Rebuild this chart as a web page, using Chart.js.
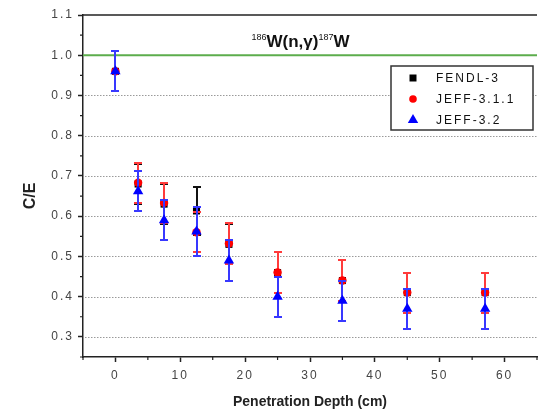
<!DOCTYPE html>
<html><head><meta charset="utf-8">
<script src="https://cdn.jsdelivr.net/npm/chart.js@4.4.0/dist/chart.umd.min.js"></script>
<style>html,body{margin:0;padding:0;background:#fff;overflow:hidden;width:541px;height:411px}canvas{display:block}</style>
</head><body><canvas id="c" width="543" height="411" style="width:543px;height:411px"></canvas>
<script>
// ---- data ----
const depth = [0, 3.5, 7.5, 12.5, 17.5, 25, 35, 45, 57];
const fendl3 = [0.96, 0.68, 0.63, 0.613, 0.53, 0.46, 0.44, 0.41, 0.41];
const fendl3Err = [0.05, 0.05, 0.05, 0.06, 0.05, 0.05, 0.05, 0.05, 0.05];
const jeff311 = [0.96, 0.683, 0.633, 0.56, 0.532, 0.46, 0.44, 0.41, 0.41];
const jeff311Err = [0.05, 0.05, 0.05, 0.05, 0.05, 0.05, 0.05, 0.05, 0.05];
const jeff32 = [0.96, 0.662, 0.59, 0.562, 0.49, 0.40, 0.39, 0.37, 0.37];
const jeff32Err = [0.05, 0.05, 0.05, 0.06, 0.05, 0.05, 0.05, 0.05, 0.05];
const seriesLabels = ['FENDL-3', 'JEFF-3.1.1', 'JEFF-3.2'];
const xTicks = [0, 10, 20, 30, 40, 50, 60];
const xMinorTicks = [-5, 5, 15, 25, 35, 45, 55, 65];
const yTicks = [0.3, 0.4, 0.5, 0.6, 0.7, 0.8, 0.9, 1.0, 1.1];
const yMinorTicks = [0.25, 0.35, 0.45, 0.55, 0.65, 0.75, 0.85, 0.95, 1.05];
const refValue = 1.0;
const titleParts = ['186', 'W(n,\u03b3)', '187', 'W'];
const xTitle = 'Penetration Depth (cm)';
const yTitle = 'C/E';

const FONT = '"Liberation Sans", Arial, Helvetica, sans-serif';
const AXIS = '#222';

function pts(vals) { return depth.map((x, i) => ({ x: x, y: vals[i] })); }

const custom = {
  id: 'custom',
  beforeUpdate(chart) { chart.ctx.letterSpacing = '2px'; },
  beforeDraw(chart) { chart.ctx.letterSpacing = '2px'; },
  beforeDatasetsDraw(chart) {
    const ctx = chart.ctx, a = chart.chartArea, ys = chart.scales.y;
    ctx.save();
    ctx.strokeStyle = '#9a9a9a';
    ctx.lineWidth = 1;
    ctx.setLineDash([1.5, 1.5]);
    yTicks.forEach(v => {
      if (Math.abs(v - refValue) < 1e-9 || Math.abs(v - ys.max) < 1e-9) return;
      const y = Math.round(ys.getPixelForValue(v)) + 0.5;
      ctx.beginPath(); ctx.moveTo(a.left + 2, y); ctx.lineTo(a.right, y); ctx.stroke();
    });
    ctx.restore();
  },
  beforeDatasetDraw(chart, args) {
    const ds = chart.data.datasets[args.index];
    if (!ds.errors) return;
    const ctx = chart.ctx, xs = chart.scales.x, ys = chart.scales.y;
    ctx.save();
    ctx.strokeStyle = ds.errColor;
    ctx.lineWidth = 2;
    ds.data.forEach((p, i) => {
      const e = ds.errors[i];
      const x = Math.round(xs.getPixelForValue(p.x));
      const yt = Math.round(ys.getPixelForValue(p.y + e)), yb = Math.round(ys.getPixelForValue(p.y - e));
      ctx.beginPath();
      ctx.moveTo(x, yt); ctx.lineTo(x, yb);
      ctx.moveTo(x - 4, yt); ctx.lineTo(x + 4, yt);
      ctx.moveTo(x - 4, yb); ctx.lineTo(x + 4, yb);
      ctx.stroke();
    });
    ctx.restore();
  },
  afterDraw(chart) {
    const ctx = chart.ctx, a = chart.chartArea, xs = chart.scales.x, ys = chart.scales.y;
    ctx.save();
    // top border
    ctx.strokeStyle = AXIS; ctx.lineWidth = 1.5;
    ctx.beginPath(); ctx.moveTo(a.left, a.top); ctx.lineTo(a.right, a.top); ctx.stroke();
    // minor ticks
    ctx.lineWidth = 1.2;
    ctx.beginPath();
    yMinorTicks.forEach(v => { const y = ys.getPixelForValue(v); ctx.moveTo(a.left, y); ctx.lineTo(a.left - 3, y); });
    xMinorTicks.forEach(v => { const x = xs.getPixelForValue(v); ctx.moveTo(x, a.bottom); ctx.lineTo(x, a.bottom + 3); });
    ctx.stroke();

    // legend
    const lx = 391, ly = 66, lw = 142, lh = 64;
    ctx.fillStyle = '#fff'; ctx.fillRect(lx, ly, lw, lh);
    ctx.strokeStyle = '#333'; ctx.lineWidth = 1.5; ctx.strokeRect(lx, ly, lw, lh);
    const rows = [78, 99, 120];
    const dsets = chart.data.datasets.slice(0, 3);
    dsets.forEach((ds, i) => {
      const cy = rows[i], cx = 413;
      ctx.fillStyle = ds.pointBackgroundColor;
      ctx.beginPath();
      if (ds.pointStyle === 'rect') ctx.rect(cx - 3.5, cy - 3.5, 7, 7);
      else if (ds.pointStyle === 'circle') ctx.arc(cx, cy, 3.8, 0, Math.PI * 2);
      else { const r = 6; ctx.moveTo(cx, cy - r); ctx.lineTo(cx + r * 0.866, cy + r * 0.5); ctx.lineTo(cx - r * 0.866, cy + r * 0.5); ctx.closePath(); }
      ctx.fill();
      ctx.fillStyle = '#111';
      ctx.font = '12px ' + FONT;
      ctx.letterSpacing = '2px';
      ctx.textAlign = 'left'; ctx.textBaseline = 'middle';
      ctx.fillText(ds.label, 436, cy + 1);
    });

    // title
    ctx.letterSpacing = '0px';
    ctx.fillStyle = '#111';
    ctx.textBaseline = 'alphabetic'; ctx.textAlign = 'left';
    const big = 'bold 17px ' + FONT, small = '9px ' + FONT;
    const fonts = [small, big, small, big];
    let total = 0;
    const widths = titleParts.map((t, i) => { ctx.font = fonts[i]; const w = ctx.measureText(t).width; total += w; return w; });
    let tx = 300.5 - total / 2;
    titleParts.forEach((t, i) => {
      ctx.font = fonts[i];
      ctx.fillText(t, tx, i % 2 === 0 ? 40 : 47);
      tx += widths[i];
    });

    // axis titles
    ctx.fillStyle = '#222';
    ctx.font = 'bold 14px ' + FONT;
    ctx.textAlign = 'center'; ctx.textBaseline = 'middle';
    ctx.fillText(xTitle, (a.left + a.right) / 2, 402);
    ctx.translate(31, 196);
    ctx.rotate(-Math.PI / 2);
    ctx.font = 'bold 16px ' + FONT;
    ctx.fillText(yTitle, 0, 0);
    ctx.restore();
  }
};

const tickFont = { family: FONT, size: 12 };

new Chart(document.getElementById('c'), {
  type: 'scatter',
  data: {
    datasets: [
      { label: seriesLabels[0], data: pts(fendl3), errors: fendl3Err, errColor: '#111',
        pointStyle: 'rect', pointRadius: 5, pointBackgroundColor: '#000', pointBorderColor: '#000', pointBorderWidth: 0, order: 2 },
      { label: seriesLabels[1], data: pts(jeff311), errors: jeff311Err, errColor: '#ff3b3b',
        pointStyle: 'circle', pointRadius: 4.2, pointBackgroundColor: '#ff0000', pointBorderColor: '#ff0000', pointBorderWidth: 0, order: 1 },
      { label: seriesLabels[2], data: pts(jeff32), errors: jeff32Err, errColor: '#3838ff',
        pointStyle: 'triangle', pointRadius: 6, pointBackgroundColor: '#0000ff', pointBorderColor: '#0000ff', pointBorderWidth: 0, order: 0 },
      { label: 'ref', data: [{ x: -5, y: refValue }, { x: 65, y: refValue }], showLine: true,
        borderColor: '#5cad4c', borderWidth: 2, pointRadius: 0, order: 3 }
    ]
  },
  options: {
    responsive: false,
    animation: false,
    events: [],
    layout: { padding: { top: 15, left: 0, right: 0, bottom: 0 } },
    plugins: { legend: { display: false }, tooltip: { enabled: false }, title: { display: false } },
    scales: {
      x: {
        type: 'linear', min: -5, max: 65,
        afterBuildTicks: s => { s.ticks = xTicks.map(v => ({ value: v })); },
        afterFit: s => { s.height = 54; },
        ticks: { padding: 6, color: '#444', font: tickFont, maxRotation: 0, autoSkip: false, callback: v => String(v) },
        grid: { drawOnChartArea: false, drawTicks: true, tickLength: 5, tickColor: AXIS, tickWidth: 1.5 },
        border: { display: true, color: AXIS, width: 1.5 }
      },
      y: {
        type: 'linear', min: 0.25, max: 1.1,
        afterBuildTicks: s => { s.ticks = yTicks.map(v => ({ value: v })); },
        afterFit: s => { s.width = 83; },
        ticks: { padding: 4, color: '#444', font: tickFont, autoSkip: false, callback: v => Number(v).toFixed(1) },
        grid: { drawOnChartArea: false, drawTicks: true, tickLength: 5, tickColor: AXIS, tickWidth: 1.5 },
        border: { display: true, color: AXIS, width: 1.5 }
      }
    }
  },
  plugins: [custom]
});
</script>
</body></html>
